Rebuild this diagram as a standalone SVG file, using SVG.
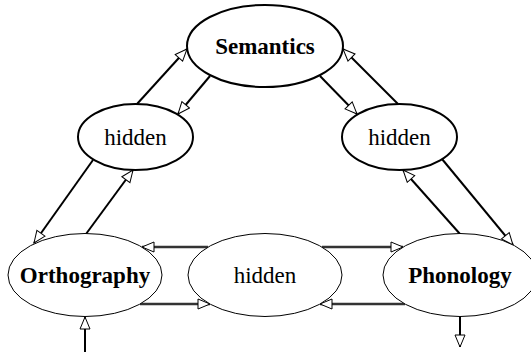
<svg xmlns="http://www.w3.org/2000/svg" width="531" height="354" viewBox="0 0 531 354">
<style>
.bg{fill:#fff}
.thick{fill:#fff;stroke:#000;stroke-width:2}
.thin{fill:#fff;stroke:#000;stroke-width:1}
.b{font-family:"Liberation Serif",serif;font-weight:bold;font-size:23px;text-anchor:middle}
.n{font-family:"Liberation Serif",serif;font-size:23px;text-anchor:middle}
.c line{stroke:#000;stroke-width:2;marker-end:url(#ah)}
.c line.h{stroke:#333;stroke-width:2.5}
</style>
<defs>
<marker id="ah" markerUnits="userSpaceOnUse" markerWidth="15" markerHeight="13" refX="12" refY="5" orient="auto" viewBox="-1 -1 15 13">
<path d="M0,0 L12,5 L0,10 Z" fill="#fff" stroke="#000" stroke-width="1"/>
</marker>
</defs>
<rect class="bg" width="531" height="354"/>
<g id="connectors" class="c">
<line x1="137" y1="104" x2="187" y2="49"/>
<line x1="210" y1="76" x2="178" y2="114"/>
<line x1="93" y1="160" x2="34" y2="243"/>
<line x1="86" y1="234" x2="133" y2="170"/>
<line x1="320" y1="76" x2="357" y2="114"/>
<line x1="398" y1="104" x2="343" y2="49"/>
<line x1="442" y1="159" x2="513" y2="245"/>
<line x1="460" y1="234" x2="403" y2="170"/>
<line class="h" x1="208" y1="247" x2="142" y2="247"/>
<line class="h" x1="140" y1="304" x2="210" y2="304"/>
<line class="h" x1="322" y1="247" x2="403" y2="247"/>
<line class="h" x1="405" y1="304" x2="320" y2="304"/>
<line x1="85" y1="352" x2="85" y2="317"/>
<line x1="460" y1="317" x2="460" y2="347"/>
</g>
<g id="semantics">
<ellipse class="thick" cx="265" cy="46" rx="78" ry="41"/>
<text class="b" x="265" y="54">Semantics</text>
</g>
<g id="hidden-left">
<ellipse class="thick" cx="135.5" cy="137" rx="57.5" ry="33"/>
<text class="n" x="135.5" y="145">hidden</text>
</g>
<g id="hidden-right">
<ellipse class="thick" cx="399.5" cy="137" rx="57.5" ry="33"/>
<text class="n" x="399.5" y="145">hidden</text>
</g>
<g id="orthography">
<ellipse class="thin" cx="85" cy="275" rx="77" ry="41.5"/>
<text class="b" x="85" y="283">Orthography</text>
</g>
<g id="hidden-middle">
<ellipse class="thin" cx="265" cy="275" rx="77" ry="41.5"/>
<text class="n" x="265" y="283">hidden</text>
</g>
<g id="phonology">
<ellipse class="thin" cx="460" cy="275" rx="77" ry="41.5"/>
<text class="b" x="460" y="283">Phonology</text>
</g>
</svg>
